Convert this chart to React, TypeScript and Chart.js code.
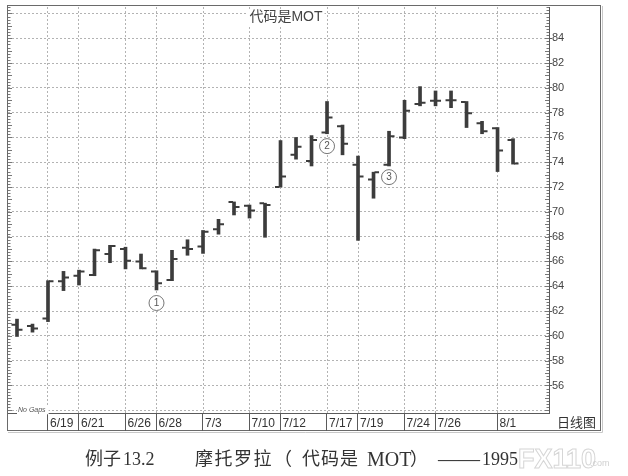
import React, { useEffect, useRef } from 'react';
import { Chart, registerables } from 'chart.js';

Chart.register(...registerables);

// ---- data ----
const dates = [
  '6/15', '6/16', '6/19', '6/20', '6/21', '6/22', '6/23', '6/26', '6/27', '6/28', '6/29',
  '6/30', '7/3', '7/5', '7/6', '7/10', '7/11', '7/12', '7/13', '7/14', '7/17', '7/18',
  '7/19', '7/20', '7/21', '7/24', '7/25', '7/26', '7/27', '7/28', '7/31', '8/1', '8/2',
];
const openV = [
  60.9, 60.8, 61.4, 64.4, 64.85, 64.9, 66.6, 67.0, 66.0, 65.2, 64.5,
  67.1, 67.2, 68.6, 70.8, 70.5, 70.7, 72.0, 74.6, 74.1, 76.4, 76.9,
  73.8, 72.6, 73.8, 76.0, 78.7, 78.95, 79.0, 78.85, 77.15, 76.75, 75.8,
];
const highV = [
  61.35, 60.95, 64.45, 65.2, 65.3, 67.0, 67.3, 67.15, 66.6, 65.25, 66.9,
  67.75, 68.5, 69.4, 70.8, 70.55, 70.7, 75.75, 76.0, 76.15, 78.9, 77.0,
  74.5, 73.2, 76.5, 79.0, 80.1, 79.75, 79.75, 78.9, 77.3, 76.8, 75.9,
];
const lowV = [
  59.95, 60.3, 61.15, 63.65, 64.1, 64.85, 65.9, 65.4, 65.4, 63.7, 64.45,
  66.5, 66.65, 68.2, 69.75, 69.5, 67.95, 72.0, 74.25, 73.7, 76.3, 74.6,
  67.7, 71.1, 73.7, 75.9, 78.55, 78.55, 78.4, 76.8, 76.3, 73.25, 73.85,
];
const closeV = [
  60.5, 60.6, 64.4, 64.7, 65.2, 66.9, 67.25, 66.05, 65.45, 64.25, 66.2,
  67.0, 68.4, 69.0, 70.4, 70.1, 70.55, 72.85, 75.25, 75.8, 77.6, 75.5,
  72.85, 73.2, 76.1, 78.15, 78.8, 78.95, 79.0, 77.95, 76.5, 74.95, 73.9,
];
const xTickDates = ['6/19', '6/21', '6/26', '6/28', '7/3', '7/10', '7/12', '7/17', '7/19', '7/24', '7/26', '8/1'];
const yGridValues = [54, 56, 58, 60, 62, 64, 66, 68, 70, 72, 74, 76, 78, 80, 82, 84, 86];
const yTickLabels = ['56', '58', '60', '62', '64', '66', '68', '70', '72', '74', '76', '78', '80', '82', '84'];
const markerDates = ['6/28', '7/17', '7/21'];
const markerValues = [62.65, 75.3, 72.8];
const markerTexts = ['1', '2', '3'];
const chartTitle = '代码是MOT';
const periodLabel = '日线图';
const gapNote = 'No Gaps';

// ---- styles ----
const BAR = '#3c3c3c';
const GRID = '#b3b3b3';
const AXIS = '#5a5a5a';
const SANS = '"Liberation Sans", "Noto Sans CJK SC", sans-serif';
const CJK = '"Noto Sans CJK SC", sans-serif';
const SERIF = '"Liberation Serif", "Noto Sans CJK SC", serif';

const xTickIdx = xTickDates.map((d) => dates.indexOf(d));

const decor = {
  id: 'decor',
  beforeDraw(chart: any) {
    const { ctx, width, height } = chart;
    ctx.save();
    ctx.fillStyle = '#ffffff';
    ctx.fillRect(0, 0, width, height);
    ctx.restore();
  },
  afterDatasetsDraw(chart: any) {
    const { ctx } = chart;
    const xs = chart.scales.x;
    const ys = chart.scales.y;
    ctx.save();
    ctx.strokeStyle = BAR;
    ctx.lineWidth = 2;
    dates.forEach((_, i) => {
      const px = xs.getPixelForValue(i);
      const yo = ys.getPixelForValue(openV[i]);
      const yc = ys.getPixelForValue(closeV[i]);
      ctx.beginPath();
      ctx.moveTo(px - 5.5, yo);
      ctx.lineTo(px - 1, yo);
      ctx.moveTo(px + 1, yc);
      ctx.lineTo(px + 5.5, yc);
      ctx.stroke();
    });
    ctx.restore();
  },
  afterDraw(chart: any) {
    const { ctx, chartArea } = chart;
    const xs = chart.scales.x;
    const ys = chart.scales.y;
    ctx.save();

    // outer frame
    ctx.strokeStyle = '#6a6a6a';
    ctx.lineWidth = 1;
    ctx.strokeRect(chartArea.left - 0.5, chartArea.top - 1.5, ys.right - chartArea.left, xs.bottom - chartArea.top + 1);
    ctx.strokeStyle = '#c8c8c8';
    ctx.beginPath();
    ctx.moveTo(ys.right + 1.5, chartArea.top - 1);
    ctx.lineTo(ys.right + 1.5, xs.bottom + 1.5);
    ctx.lineTo(chartArea.left, xs.bottom + 1.5);
    ctx.stroke();

    // separators in label strip
    ctx.strokeStyle = AXIS;
    ctx.beginPath();
    xTickIdx.forEach((i) => {
      const px = Math.round(xs.getPixelForValue(i)) - 0.5;
      ctx.moveTo(px, chartArea.bottom);
      ctx.lineTo(px, xs.bottom);
    });
    ctx.stroke();

    // minor ticks on left edge and right axis
    ctx.strokeStyle = '#777';
    ctx.beginPath();
    for (let k = Math.ceil(ys.min * 4); k <= Math.floor(ys.max * 4); k++) {
      const v = k / 4;
      const py = Math.round(ys.getPixelForValue(v)) + 0.5;
      const len = k % 4 === 0 ? 4 : 2.5;
      ctx.moveTo(chartArea.left, py);
      ctx.lineTo(chartArea.left + len, py);
      ctx.moveTo(chartArea.right - len, py);
      ctx.lineTo(chartArea.right, py);
    }
    ctx.stroke();

    // title
    ctx.font = `14px ${SANS}`;
    const tw = ctx.measureText(chartTitle).width;
    const tx = 286;
    const ty = chartArea.top + 10;
    ctx.fillStyle = '#ffffff';
    ctx.fillRect(tx - tw / 2 - 2, ty - 8, tw + 4, 16);
    ctx.fillStyle = '#444';
    ctx.textAlign = 'center';
    ctx.textBaseline = 'middle';
    ctx.fillText(chartTitle, tx, ty);

    // No Gaps note
    ctx.font = `italic 7px ${SANS}`;
    const nw = ctx.measureText(gapNote).width;
    const ny = ys.getPixelForValue(54);
    ctx.fillStyle = '#ffffff';
    ctx.fillRect(chartArea.left + 9, ny - 4, nw + 4, 8);
    ctx.fillStyle = '#555';
    ctx.textAlign = 'left';
    ctx.fillText(gapNote, chartArea.left + 10, ny);

    // period label
    ctx.font = `13px ${CJK}`;
    ctx.fillStyle = '#333';
    ctx.textAlign = 'left';
    ctx.fillText(periodLabel, chartArea.right + 8, (chartArea.bottom + xs.bottom) / 2);

    // circled markers
    markerDates.forEach((d, j) => {
      const cx = xs.getPixelForValue(dates.indexOf(d));
      const cy = ys.getPixelForValue(markerValues[j]);
      ctx.beginPath();
      ctx.arc(cx, cy, 7.5, 0, Math.PI * 2);
      ctx.fillStyle = '#ffffff';
      ctx.fill();
      ctx.strokeStyle = '#777';
      ctx.lineWidth = 1;
      ctx.stroke();
      ctx.font = `10px ${SANS}`;
      ctx.fillStyle = '#555';
      ctx.textAlign = 'center';
      ctx.textBaseline = 'middle';
      ctx.fillText(markerTexts[j], cx, cy + 0.5);
    });

    ctx.restore();
  },
};

export default function App() {
  const ref = useRef<HTMLCanvasElement | null>(null);

  useEffect(() => {
    const canvas = ref.current;
    if (!canvas) return;
    const chart = new Chart(canvas, {
      type: 'bar',
      data: {
        datasets: [
          {
            data: dates.map((_, i) => ({ x: i, y: [lowV[i], highV[i]] })) as any,
            backgroundColor: BAR,
            borderWidth: 0,
            barThickness: 3,
          },
        ],
      },
      options: {
        animation: false,
        responsive: false,
        devicePixelRatio: 1,
        layout: { padding: { left: 8, top: 7, right: 27, bottom: 45 } },
        plugins: {
          legend: { display: false },
          tooltip: { enabled: false },
          title: { display: false },
        },
        scales: {
          x: {
            type: 'linear',
            min: -0.58,
            max: 34.32,
            offset: false,
            afterBuildTicks: (s: any) => {
              s.ticks = xTickIdx.map((v) => ({ value: v }));
            },
            afterFit: (s: any) => {
              s.height = 18;
            },
            grid: { offset: false, drawTicks: false, color: GRID, lineWidth: 1 },
            border: { display: true, color: AXIS, width: 1, dash: [2, 2] },
            ticks: {
              autoSkip: false,
              maxRotation: 0,
              minRotation: 0,
              align: 'start',
              labelOffset: 2,
              padding: 3,
              color: '#333',
              font: { family: SANS, size: 12 },
              callback: (v: any) => dates[v] ?? '',
            },
          } as any,
          y: {
            type: 'linear',
            position: 'right',
            min: 53.78,
            max: 86.52,
            afterBuildTicks: (s: any) => {
              s.ticks = yGridValues.map((v) => ({ value: v }));
            },
            afterFit: (s: any) => {
              s.width = 52;
            },
            grid: {
              color: GRID,
              lineWidth: 1,
              drawTicks: true,
              tickLength: 3,
              tickColor: (c: any) => (c.tick && yTickLabels.includes(String(c.tick.value)) ? AXIS : 'rgba(0,0,0,0)'),
              tickBorderDash: [],
            },
            border: { display: true, color: AXIS, width: 1, dash: [2, 2] },
            ticks: {
              padding: 0,
              color: '#444',
              font: { family: SANS, size: 11 },
              callback: (v: any) => (yTickLabels.includes(String(v)) ? String(v) : ''),
            },
          } as any,
        },
      },
      plugins: [decor],
    });
    return () => chart.destroy();
  }, []);

  const cap: React.CSSProperties = {
    position: 'absolute',
    top: 449,
    fontFamily: SERIF,
    fontSize: 18,
    lineHeight: '20px',
    color: '#333',
    whiteSpace: 'pre',
  };

  return (
    <div style={{ position: 'fixed', left: 0, top: 0, width: 628, height: 476, background: '#fff', overflow: 'hidden' }}>
      <canvas ref={ref} width={628} height={476} style={{ position: 'absolute', left: 0, top: 0, width: 628, height: 476 }} />
      <span style={{ ...cap, left: 85 }}>例子</span>
      <span style={{ ...cap, left: 123 }}>13.2</span>
      <span style={{ ...cap, left: 195, letterSpacing: 1.5 }}>摩托罗拉</span>
      <span style={{ ...cap, left: 274 }}>（</span>
      <span style={{ ...cap, left: 302, letterSpacing: 1 }}>代码是</span>
      <span style={{ ...cap, left: 367, fontSize: 20 }}>MOT</span>
      <span style={{ ...cap, left: 410 }}>）</span>
      <span style={{ ...cap, left: 438, fontSize: 21 }}>——</span>
      <span style={{ ...cap, left: 482 }}>1995</span>
      <span
        style={{
          position: 'absolute',
          left: 518,
          top: 444,
          fontFamily: SANS,
          fontSize: 27,
          fontWeight: 'bold',
          lineHeight: '30px',
          color: 'transparent',
          WebkitTextStroke: '1px #d6d6d6',
          whiteSpace: 'pre',
        }}
      >
        FX110
      </span>
      <span style={{ position: 'absolute', left: 590, top: 458, fontFamily: SANS, fontSize: 9, color: '#d0d0d0' }}>.com</span>
    </div>
  );
}
